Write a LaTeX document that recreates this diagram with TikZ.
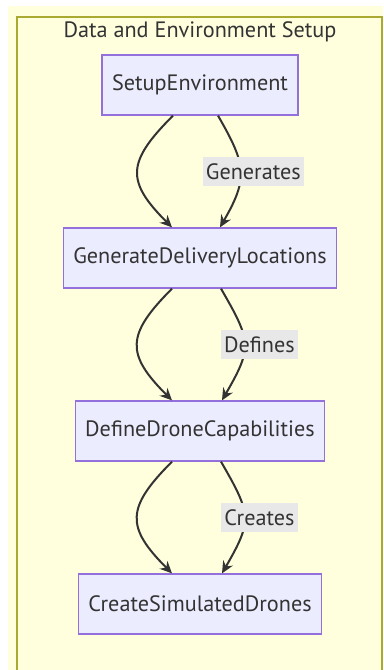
\documentclass[tikz,border=0pt]{standalone}
\usepackage{fontspec}
\setmainfont{PT Sans}
\usetikzlibrary{positioning, arrows.meta}
\definecolor{nodefill}{HTML}{ECECFF}
\definecolor{nodeline}{HTML}{9370DB}
\definecolor{groupfill}{HTML}{FFFFDE}
\definecolor{groupline}{HTML}{AAAA33}
\definecolor{ink}{HTML}{333333}
\definecolor{labelfill}{HTML}{E8E8E8}
\newcommand{\chartfont}{\fontsize{22.3}{26}\selectfont}

\begin{document}
\begin{tikzpicture}[x=1bp,y=1bp,>={Stealth[length=12bp,width=11bp]},
        node distance=173bp,
        proc node/.style={rectangle,draw=nodeline,fill=nodefill,line width=1.3bp,text=ink,
          minimum height=60bp,inner xsep=10bp,font=\chartfont},
        link/.style={->,draw=ink,line width=2bp},
        link label/.style={fill=labelfill,text=ink,minimum height=29bp,inner xsep=3bp,font=\chartfont}]
        \useasboundingbox (0,0) rectangle (383,-670);
        \fill[white] (0,0) rectangle (383,-670);
        \fill[groupfill] (8,-6) rectangle (383,-670);
        \draw[groupline,line width=1.3bp] (17,-670) -- (17,-17) -- (382,-17) -- (382,-670);
        \node[text=ink,font=\chartfont] (title) at (200,-32) {Data and Environment Setup};

        \node[proc node] (1) at (200,-85) {SetupEnvironment};
        \node[proc node] (2) [below of=1] {GenerateDeliveryLocations};
        \node[proc node] (3) [below of=2] {DefineDroneCapabilities};
        \node[proc node] (4) [below of=3] {CreateSimulatedDrones};

        \path
        ([xshift=-27bp]1.south) edge [link,out=-135,in=135,looseness=1.5] ([xshift=-28bp]2.north)
        ([xshift=18bp]1.south) edge [link,out=-60,in=60,looseness=1.3] node[link label,xshift=13bp] {Generates} ([xshift=20bp]2.north)
        ([xshift=-28bp]2.south) edge [link,out=-135,in=135,looseness=1.5] ([xshift=-28bp]3.north)
        ([xshift=21bp]2.south) edge [link,out=-60,in=60,looseness=1.4] node[link label,xshift=15bp] {Defines} ([xshift=22bp]3.north)
        ([xshift=-28bp]3.south) edge [link,out=-135,in=135,looseness=1.5] ([xshift=-28bp]4.north)
        ([xshift=21bp]3.south) edge [link,out=-60,in=60,looseness=1.4] node[link label,xshift=15bp] {Creates} ([xshift=22bp]4.north);
    \end{tikzpicture}
\end{document}
